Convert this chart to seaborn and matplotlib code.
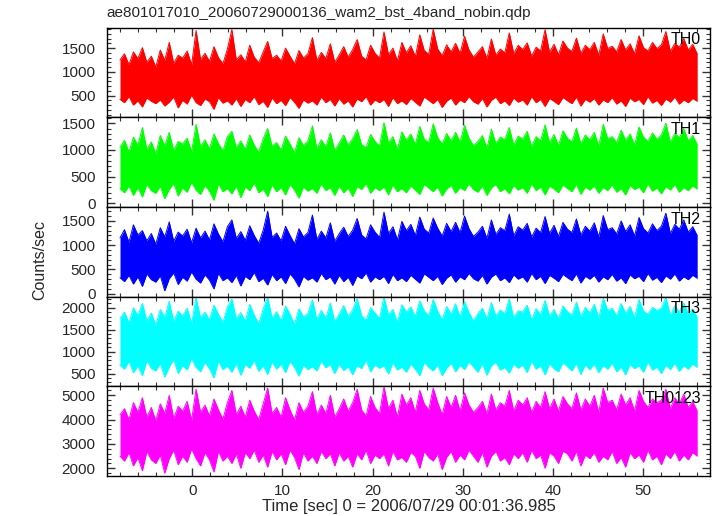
import numpy as np
import pandas as pd
import matplotlib
matplotlib.use("Agg")
import matplotlib.pyplot as plt
from matplotlib.ticker import MultipleLocator
import seaborn as sns

# time span of the light curve (sec, relative to 2006/07/29 00:01:36.985)
t_start = -8.0
t_end = 56.0

# upper / lower envelope of each noisy light curve (counts/sec)
th0_hi = [1250, 1380, 1150, 1420, 1280, 1510, 1200, 1330, 1100, 1460,
          1240, 1620, 1180, 1350, 1290, 1440, 1150, 1870, 1260, 1390,
          1220, 1530, 1300, 1170, 1480, 1890, 1250, 1360, 1210, 1560,
          1310, 1190, 1420, 1640, 1280, 1350, 1230, 1500, 1330, 1170,
          1450, 1290, 1380, 1720, 1240, 1410, 1280, 1590, 1200, 1360,
          1530, 1310, 1470, 1680, 1330, 1250, 1560, 1390, 1290, 1840,
          1360, 1500, 1230, 1620, 1400, 1550, 1320, 1780, 1450, 1370,
          1900, 1480, 1340, 1570, 1420, 1600, 1390, 1750, 1460, 1310,
          1420, 1530, 1280, 1690, 1350, 1480, 1400, 1820, 1380, 1560,
          1470, 1610, 1330, 1520, 1440, 1890, 1410, 1580, 1360, 1650,
          1500, 1430, 1710, 1390, 1560, 1470, 1620, 1350, 1800, 1490,
          1540, 1420, 1680, 1460, 1590, 1380, 1760, 1510, 1440, 1620,
          1490, 1570, 1850, 1430, 1600, 1520, 1700, 1460, 1580, 1380]
th0_lo = [420, 350, 480, 300, 390, 260, 450, 380, 330, 410,
          280, 360, 470, 240, 400, 320, 510, 350, 290, 430,
          370, 210, 460, 340, 390, 300, 440, 270, 420, 350,
          480, 310, 380, 250, 450, 330, 400, 290, 460, 360,
          230, 410, 340, 390, 300, 470, 350, 420, 280, 440,
          320, 390, 260, 430, 370, 480, 300, 410, 350, 420,
          270, 460, 330, 390, 310, 440, 360, 280, 470, 400,
          330, 420, 250, 380, 450, 300, 410, 350, 480, 370,
          320, 440, 260, 400, 470, 330, 390, 290, 450, 360,
          410, 300, 480, 350, 420, 270, 440, 380, 310, 460,
          390, 330, 470, 280, 420, 360, 440, 300, 410, 350,
          460, 320, 390, 270, 450, 370, 420, 310, 480, 340,
          400, 290, 430, 360, 470, 320, 410, 350, 440, 380]
th1_hi = [1050, 1180, 960, 1240, 1090, 1420, 1010, 1150, 930, 1270,
          1080, 1330, 990, 1160, 1110, 1220, 970, 1480, 1060, 1190,
          1020, 1300, 1120, 980, 1250, 1350, 1040, 1170, 1010, 1280,
          1090, 960, 1210, 1400, 1070, 1140, 1000, 1260, 1110, 950,
          1230, 1080, 1170, 1450, 1020, 1190, 1060, 1320, 990, 1130,
          1280, 1090, 1210, 1380, 1100, 1040, 1290, 1160, 1070, 1510,
          1130, 1250, 1010, 1340, 1180, 1300, 1100, 1440, 1200, 1140,
          1490, 1230, 1110, 1310, 1170, 1330, 1150, 1460, 1220, 1080,
          1160, 1270, 1030, 1390, 1120, 1240, 1190, 1420, 1090, 1260,
          1200, 1350, 1060, 1250, 1170, 1470, 1130, 1290, 1080, 1360,
          1220, 1150, 1410, 1110, 1280, 1190, 1330, 1070, 1480, 1210,
          1250, 1130, 1370, 1180, 1300, 1090, 1430, 1240, 1160, 1320,
          1200, 1280, 1500, 1140, 1310, 1230, 1400, 1170, 1270, 1100]
th1_lo = [280, 200, 330, 150, 300, 120, 360, 240, 190, 320,
          90, 260, 380, 140, 290, 210, 400, 250, 170, 340,
          230, 60, 370, 220, 280, 180, 330, 110, 310, 240,
          390, 200, 270, 130, 350, 220, 300, 160, 360, 250,
          100, 310, 230, 280, 190, 370, 240, 300, 150, 330,
          200, 290, 130, 320, 260, 380, 190, 300, 240, 310,
          160, 350, 220, 280, 200, 330, 250, 170, 360, 290,
          220, 310, 140, 270, 340, 190, 300, 240, 370, 260,
          210, 330, 150, 290, 360, 220, 280, 180, 340, 250,
          300, 190, 370, 240, 310, 160, 330, 270, 200, 350,
          280, 220, 360, 170, 310, 250, 330, 190, 300, 240,
          350, 210, 280, 160, 340, 260, 310, 200, 370, 230,
          290, 180, 320, 250, 360, 210, 300, 240, 330, 270]
th2_hi = [1150, 1320, 1060, 1420, 1210, 1300, 1090, 1240, 1020, 1360,
          1170, 1480, 1080, 1270, 1190, 1330, 1050, 1350, 1150, 1290,
          1110, 1440, 1230, 1070, 1380, 1520, 1140, 1280, 1100, 1400,
          1200, 1040, 1310, 1700, 1160, 1250, 1090, 1390, 1200, 1030,
          1340, 1170, 1260, 1620, 1120, 1290, 1150, 1460, 1080, 1240,
          1370, 1180, 1310, 1550, 1210, 1130, 1420, 1270, 1160, 1680,
          1240, 1380, 1110, 1490, 1300, 1430, 1200, 1580, 1330, 1250,
          1560, 1350, 1190, 1450, 1280, 1470, 1260, 1600, 1340, 1180,
          1270, 1390, 1140, 1520, 1220, 1360, 1300, 1640, 1190, 1380,
          1310, 1450, 1170, 1350, 1260, 1590, 1240, 1410, 1180, 1470,
          1330, 1260, 1540, 1210, 1390, 1290, 1460, 1170, 1610, 1320,
          1360, 1230, 1500, 1280, 1420, 1190, 1570, 1340, 1250, 1440,
          1300, 1390, 1660, 1240, 1430, 1330, 1520, 1270, 1380, 1200]
th2_lo = [330, 250, 380, 200, 350, 150, 410, 290, 240, 370,
          60, 310, 430, 190, 340, 260, 450, 300, 220, 390,
          280, 100, 420, 270, 330, 230, 380, 160, 360, 290,
          440, 250, 320, 180, 400, 270, 350, 210, 410, 300,
          140, 360, 280, 330, 240, 420, 290, 350, 200, 380,
          250, 340, 170, 370, 310, 430, 240, 350, 290, 360,
          210, 400, 270, 330, 250, 380, 300, 220, 410, 340,
          270, 360, 190, 320, 390, 240, 350, 290, 420, 310,
          260, 380, 200, 340, 410, 270, 330, 230, 390, 300,
          350, 240, 420, 290, 360, 210, 380, 320, 250, 400,
          330, 270, 410, 220, 360, 300, 380, 240, 350, 290,
          400, 260, 330, 210, 390, 310, 360, 250, 420, 280,
          340, 230, 370, 300, 410, 260, 350, 290, 380, 320]
th3_hi = [1750, 1900, 1650, 2000, 1820, 2100, 1700, 1880, 1600, 1960,
          1780, 2150, 1680, 1920, 1810, 1990, 1640, 2230, 1770, 1900,
          1720, 2060, 1850, 1660, 2020, 2200, 1740, 1890, 1690, 2080,
          1830, 1630, 1970, 2240, 1760, 1910, 1700, 2040, 1850, 1620,
          1980, 1790, 1870, 2180, 1730, 1940, 1760, 2110, 1680, 1860,
          2050, 1800, 1950, 2210, 1820, 1710, 2000, 1880, 1750, 2250,
          1840, 1960, 1670, 2070, 1900, 2020, 1790, 2160, 1930, 1810,
          2190, 1920, 1720, 2030, 1850, 2090, 1780, 2140, 1890, 1700,
          1870, 1990, 1740, 2120, 1810, 1950, 1860, 2200, 1770, 1930,
          1900, 2060, 1720, 1980, 1840, 2170, 1800, 1960, 1750, 2040,
          1910, 1830, 2130, 1790, 2010, 1880, 2080, 1760, 2220, 1940,
          1990, 1810, 2100, 1870, 2030, 1770, 2190, 1920, 1850, 2010,
          1940, 1990, 2240, 1820, 2050, 1900, 2110, 1860, 1970, 1780]
th3_lo = [700, 600, 780, 520, 680, 450, 800, 620, 560, 730,
          420, 650, 820, 500, 690, 580, 850, 640, 540, 760,
          610, 400, 790, 590, 670, 530, 740, 460, 710, 620,
          800, 550, 680, 480, 770, 600, 720, 520, 780, 640,
          440, 700, 590, 660, 560, 790, 630, 710, 500, 720,
          570, 660, 470, 690, 610, 810, 540, 700, 620, 680,
          490, 750, 580, 650, 530, 720, 600, 450, 760, 640,
          560, 700, 450, 620, 740, 540, 690, 590, 770, 650,
          530, 730, 460, 680, 760, 580, 640, 510, 720, 620,
          700, 520, 790, 600, 680, 470, 730, 610, 540, 750,
          660, 560, 740, 480, 700, 590, 720, 520, 690, 600,
          740, 540, 650, 470, 710, 610, 680, 530, 770, 580,
          650, 500, 700, 590, 740, 550, 680, 600, 720, 640]
th0123_hi = [4200, 4450, 4000, 4700, 4300, 4900, 4100, 4500, 3950, 4650,
             4250, 5000, 4050, 4550, 4350, 4750, 3980, 5250, 4300, 4600,
             4150, 4850, 4400, 4020, 4700, 5200, 4200, 4550, 4100, 4800,
             4350, 4000, 4650, 5300, 4250, 4500, 4100, 4900, 4400, 3980,
             4700, 4300, 4550, 5150, 4200, 4600, 4250, 5000, 4100, 4450,
             4850, 4350, 4700, 5250, 4400, 4150, 4950, 4500, 4250, 5350,
             4450, 4800, 4100, 5050, 4600, 4900, 4300, 5200, 4650, 4400,
             5300, 4700, 4200, 4950, 4500, 5000, 4350, 5100, 4600, 4300,
             4500, 4750, 4250, 5050, 4400, 4700, 4550, 5200, 4350, 4800,
             4600, 4900, 4300, 4750, 4500, 5150, 4450, 4850, 4350, 4950,
             4650, 4450, 5100, 4400, 4850, 4550, 5000, 4300, 5300, 4700,
             4800, 4400, 5050, 4600, 4900, 4350, 5200, 4750, 4500, 4850,
             4700, 4800, 5250, 4450, 4900, 4650, 5050, 4500, 4750, 4350]
th0123_lo = [2500, 2300, 2650, 2100, 2450, 1900, 2700, 2350, 2200, 2550,
             1800, 2400, 2750, 2150, 2500, 2250, 2800, 2400, 2100, 2650,
             2350, 1850, 2700, 2300, 2500, 2200, 2600, 2000, 2650, 2400,
             2750, 2250, 2550, 2050, 2700, 2350, 2600, 2150, 2750, 2450,
             1950, 2650, 2300, 2500, 2200, 2700, 2400, 2600, 2100, 2650,
             2300, 2500, 2050, 2600, 2350, 2750, 2200, 2550, 2400, 2600,
             2100, 2700, 2350, 2450, 2250, 2650, 2500, 2000, 2700, 2450,
             2300, 2600, 1950, 2450, 2700, 2250, 2550, 2350, 2750, 2500,
             2250, 2650, 2050, 2500, 2700, 2300, 2450, 2150, 2600, 2400,
             2650, 2250, 2750, 2400, 2550, 2000, 2650, 2500, 2200, 2700,
             2600, 2300, 2700, 2100, 2550, 2400, 2650, 2250, 2500, 2350,
             2700, 2200, 2450, 2050, 2650, 2400, 2550, 2250, 2750, 2350,
             2500, 2150, 2600, 2400, 2700, 2300, 2550, 2350, 2650, 2500]

bands = ["TH0", "TH1", "TH2", "TH3", "TH0123"]
uppers = [th0_hi, th1_hi, th2_hi, th3_hi, th0123_hi]
lowers = [th0_lo, th1_lo, th2_lo, th3_lo, th0123_lo]
colors = ["#ff0000", "#00ff00", "#0000ff", "#00ffff", "#ff00ff"]
ylims = [(40, 1930), (-67, 1610), (-61, 1786), (207, 2253), (1684, 5369)]
yticks = [[500, 1000, 1500], [0, 500, 1000, 1500], [0, 500, 1000, 1500],
          [500, 1000, 1500, 2000], [2000, 3000, 4000, 5000]]
yminor = [100, 100, 100, 100, 200]

sns.set_style("ticks")
plt.rcParams["font.family"] = ["Liberation Sans", "DejaVu Sans"]
plt.rcParams["font.size"] = 11

fig, axes = plt.subplots(5, 1, figsize=(7.17, 5.16), dpi=100, sharex=True)
fig.subplots_adjust(left=0.149, right=0.990, top=0.9463, bottom=0.0775, hspace=0)

for i, ax in enumerate(axes):
    hi, lo = uppers[i], lowers[i]
    t = np.linspace(t_start, t_end, len(hi))
    df = pd.DataFrame({"time": np.concatenate([t, t]),
                       "rate": hi + lo,
                       "edge": ["hi"] * len(hi) + ["lo"] * len(lo)})
    ax.fill_between(t, lo, hi, color=colors[i], lw=0)
    sns.lineplot(data=df, x="time", y="rate", units="edge", ax=ax, color=colors[i],
                 lw=0.7, sort=False, estimator=None)
    ax.set_xlim(-9.46, 57.4)
    ax.set_xlabel("")
    ax.set_ylabel("")
    ax.set_yticks(yticks[i])
    ax.yaxis.set_minor_locator(MultipleLocator(yminor[i]))
    ax.set_ylim(*ylims[i])
    ax.xaxis.set_major_locator(MultipleLocator(10))
    ax.xaxis.set_minor_locator(MultipleLocator(2))
    ax.tick_params(which="both", direction="in", top=True, right=True,
                   color="#333333", labelsize=11)
    ax.tick_params(which="major", length=6, width=1)
    ax.tick_params(which="minor", length=3, width=0.8)
    ax.tick_params(axis="y", which="major", pad=8)
    ax.tick_params(axis="x", which="major", pad=6)
    for sp in ax.spines.values():
        sp.set_color("black")
        sp.set_linewidth(1)
    ax.text(0.985, 0.95, bands[i], transform=ax.transAxes, ha="right", va="top",
            fontsize=11.5, color="black")
    if i < 4:
        ax.tick_params(labelbottom=False)

fig.text(0.149, 1 - 13 / 516, "ae801017010_20060729000136_wam2_bst_4band_nobin.qdp",
         ha="left", va="center", fontsize=11)
fig.text(40 / 717, 0.496, "Counts/sec", rotation=90, ha="center", va="center", fontsize=11.5)
fig.text(0.57, 1 - 507 / 516, "Time [sec] 0 = 2006/07/29 00:01:36.985",
         ha="center", va="center", fontsize=12)

fig.savefig("out.png", dpi=100)
